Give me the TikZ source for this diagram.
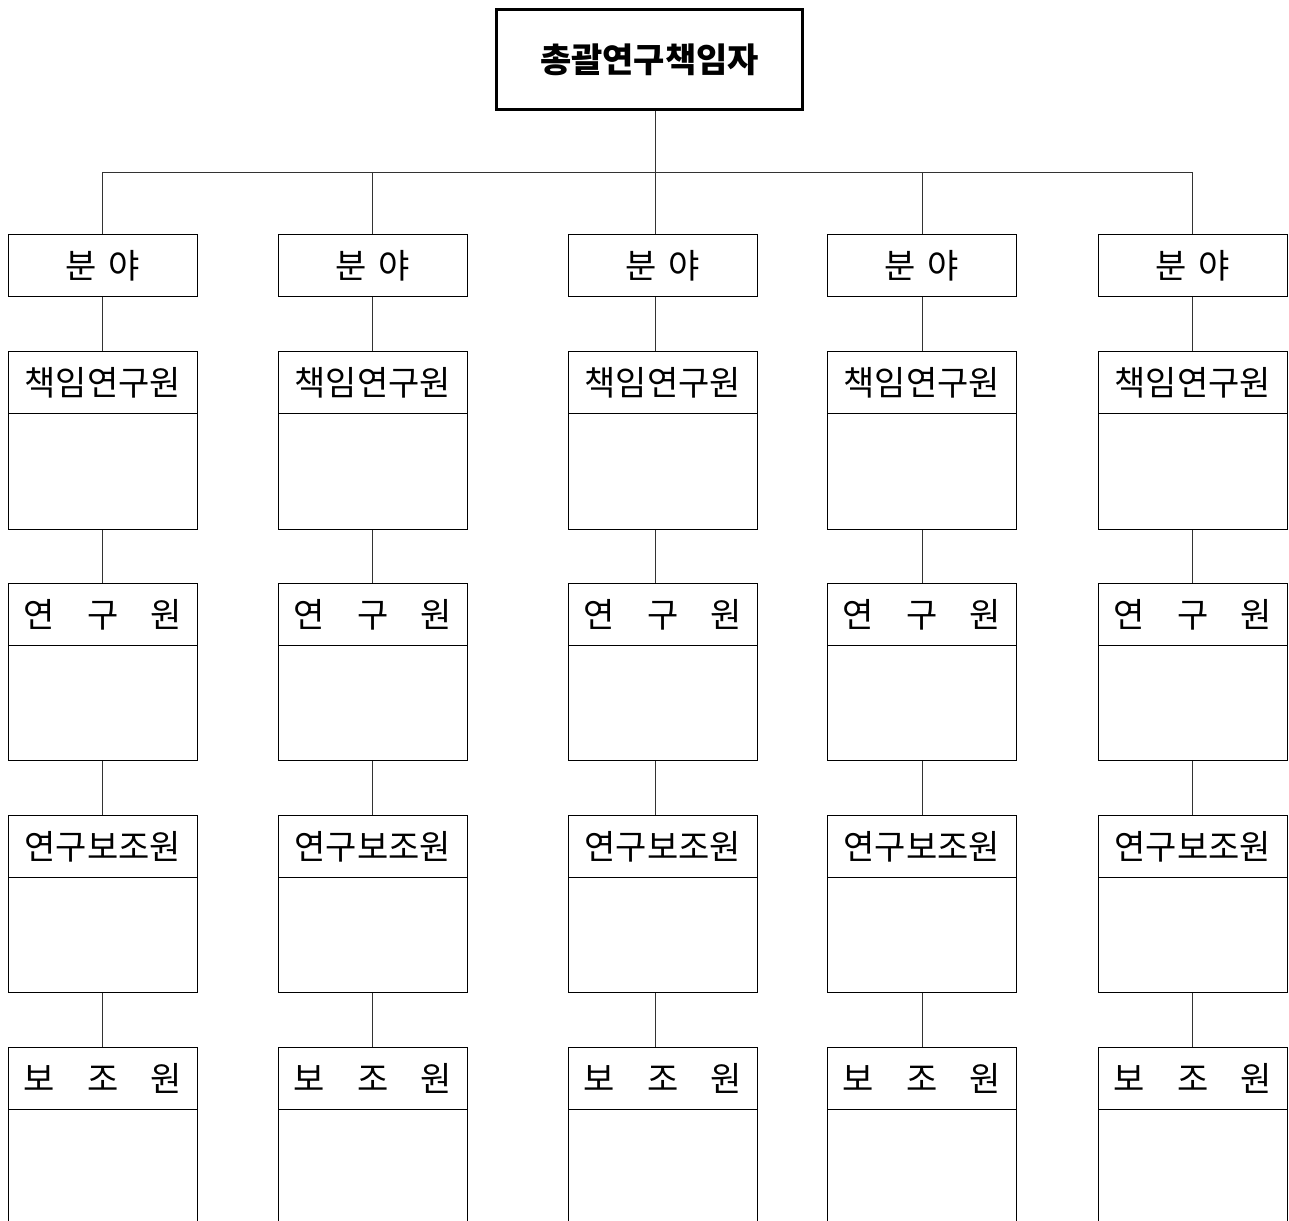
\documentclass[tikz,border=0pt]{standalone}
\usepackage{fontspec}
\newfontfamily\kr{Noto Sans CJK KR}
\begin{document}
\begin{tikzpicture}[x=1pt,y=-1pt,line width=1pt,
  lbl/.style={font=\kr\fontsize{34}{34}\selectfont},
  box/.style={draw=black,lbl,minimum width=188.5pt,minimum height=62pt,inner sep=0pt,anchor=north west},
  body/.style={draw=black,minimum width=188.5pt,minimum height=116pt,inner sep=0pt,anchor=north west},
  topbox/.style={draw=black,line width=2.7pt,font=\kr\bfseries\fontsize{34}{34}\selectfont,minimum width=306pt,minimum height=100pt,inner sep=0pt},
  link/.style={draw=black!80,line width=1pt}]
\useasboundingbox (0,0) rectangle (1289,1220);
\node[topbox] (top) at (649.5,59.5) {총괄연구책임자};
\foreach \i/\l/\c in {1/8/102,2/278/372,3/568/655,4/827/922,5/1098/1192}{
  \coordinate (x\i) at (\c,172);
  \node[box] (f\i) at (\l,234) {분\hspace{12pt}야};
  \node[box] (a\i) at (\l,351) {책임연구원};
  \node[body] (ab\i) at (\l,413) {};
  \node[box] (b\i) at (\l,583) {\makebox[158pt]{연\hfill 구\hfill 원}};
  \node[body,minimum height=115pt] (bb\i) at (\l,645) {};
  \node[box] (c\i) at (\l,815) {연구보조원};
  \node[body,minimum height=115pt] (cb\i) at (\l,877) {};
  \node[box] (d\i) at (\l,1047) {\makebox[158pt]{보\hfill 조\hfill 원}};
  \draw[link] (x\i) -- (x\i |- f\i.north);
  \draw[link] (f\i.south -| x\i) -- (a\i.north -| x\i);
  \draw[link] (ab\i.south -| x\i) -- (b\i.north -| x\i);
  \draw[link] (bb\i.south -| x\i) -- (c\i.north -| x\i);
  \draw[link] (cb\i.south -| x\i) -- (d\i.north -| x\i);
  \draw (d\i.south west) -- ++(0,125);
  \draw (d\i.south east) -- ++(0,125);
}
\draw[link] (x1) -- (x5);
\draw[link] (top.south -| x3) -- (x3);
\end{tikzpicture}
\end{document}
